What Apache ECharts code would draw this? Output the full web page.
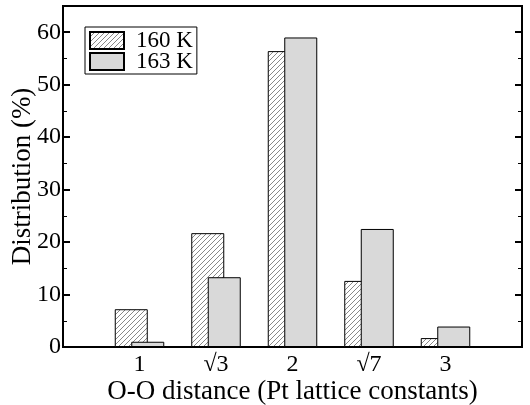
<!DOCTYPE html>
<html>
<head>
<meta charset="utf-8">
<script src="https://cdn.jsdelivr.net/npm/echarts@6/dist/echarts.min.js"></script>
<style>
  html, body { margin: 0; padding: 0; background: #fff; }
  #chart { width: 530px; height: 405px; }
</style>
</head>
<body>
<div id="chart"></div>
<script>
// data
var categories = ['1', '√3', '2', '√7', '3'];
var dist160 = [7.2, 21.7, 56.4, 12.6, 1.7];
var dist163 = [1.0, 13.3, 59.0, 22.5, 3.9];
var yTicks = [0, 10, 20, 30, 40, 50, 60];

// hatched pattern for 160 K
function hatch() {
  var s = 5;
  var c = document.createElement('canvas');
  c.width = s; c.height = s;
  var ctx = c.getContext('2d');
  ctx.fillStyle = '#fff';
  ctx.fillRect(0, 0, s, s);
  ctx.strokeStyle = '#555';
  ctx.lineWidth = 0.7;
  ctx.beginPath();
  ctx.moveTo(-1, s + 1); ctx.lineTo(s + 1, -1);
  ctx.moveTo(-1, 1); ctx.lineTo(1, -1);
  ctx.moveTo(s - 1, s + 1); ctx.lineTo(s + 1, s - 1);
  ctx.stroke();
  return c;
}

// pad the category axis so ticks sit at 1..5 of a 0..6 range
var xData = [''].concat(categories, ['']);
function pad(arr) { return ['-'].concat(arr, ['-']); }

var font = 'Liberation Serif';
var myChart = echarts.init(document.getElementById('chart'));

var yAxisBase = {
  type: 'value',
  min: 0,
  max: 65,
  interval: 10,
  axisLine: {show: true, lineStyle: {color: '#000', width: 2}},
  axisTick: {show: true, inside: true, length: 7, lineStyle: {color: '#000', width: 2}},
  minorTick: {show: true, splitNumber: 2, length: 4, lineStyle: {color: '#000', width: 1}},
  splitLine: {show: false}
};

option = {
  animation: false,
  color: ['#fff', '#d9d9d9'],
  grid: {
    left: 63,
    right: 8,
    top: 6,
    bottom: 58,
    outerBoundsMode: 'none',
    containLabel: false,
    show: true,
    borderColor: '#000',
    borderWidth: 2
  },
  legend: {
    orient: 'vertical',
    left: 85,
    top: 27,
    padding: [2, 4, 1, 4],
    itemWidth: 34,
    itemHeight: 17,
    itemGap: -2,
    borderColor: '#000',
    borderWidth: 1,
    icon: 'rect',
    textStyle: {fontFamily: font, fontSize: 23, color: '#000', padding: [0, 0, 0, 7]},
    data: ['160 K', '163 K']
  },
  xAxis: {
    type: 'category',
    boundaryGap: false,
    data: xData,
    axisLine: {show: true, lineStyle: {color: '#000', width: 2}},
    axisTick: {show: false},
    axisLabel: {fontFamily: font, fontSize: 24, color: '#000', margin: 6},
    name: 'O-O distance (Pt lattice constants)',
    nameLocation: 'middle',
    nameGap: 31,
    nameMoveOverlap: false,
    nameTextStyle: {fontFamily: font, fontSize: 27, color: '#000'}
  },
  yAxis: [
    Object.assign({}, yAxisBase, {
      position: 'left',
      axisLabel: {
        fontFamily: font, fontSize: 24, color: '#000', margin: 2,
        formatter: function (v) { return yTicks.indexOf(v) >= 0 ? v : ''; }
      },
      name: 'Distribution (%)',
      nameLocation: 'middle',
      nameGap: 27,
      nameMoveOverlap: false,
      nameTextStyle: {fontFamily: font, fontSize: 27, color: '#000'}
    }),
    Object.assign({}, yAxisBase, {
      position: 'right',
      axisLabel: {show: false}
    })
  ],
  series: [
    {
      name: '160 K',
      type: 'bar',
      barWidth: 33,
      barGap: '-50%',
      itemStyle: {
        color: {image: hatch(), repeat: 'repeat'},
        borderColor: '#000',
        borderWidth: 1
      },
      data: pad(dist160)
    },
    {
      name: '163 K',
      type: 'bar',
      barWidth: 33,
      barGap: '-50%',
      itemStyle: {
        color: '#d9d9d9',
        borderColor: '#000',
        borderWidth: 1
      },
      data: pad(dist163)
    }
  ]
};

myChart.setOption(option);
</script>
</body>
</html>
